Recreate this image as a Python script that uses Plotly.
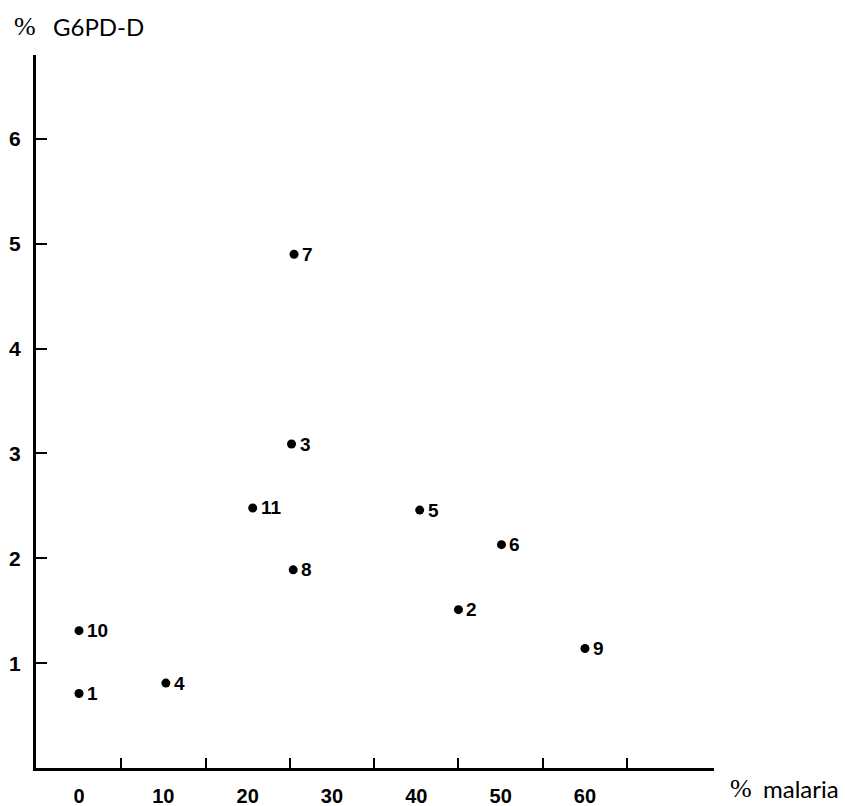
import plotly.graph_objects as go

# Data
ids = ["1", "2", "3", "4", "5", "6", "7", "8", "9", "10", "11"]
malaria = [0, 45, 25.2, 10.3, 40.4, 50.1, 25.5, 25.4, 60.0, 0, 20.6]
g6pd = [0.71, 1.51, 3.09, 0.81, 2.46, 2.13, 4.90, 1.89, 1.14, 1.31, 2.48]

x_label_vals = [0, 10, 20, 30, 40, 50, 60]
x_label_text = ["0", "10", "20", "30", "40", "50", "60"]
x_tick_marks = [5, 15, 25, 35, 45, 55, 65]
y_tick_vals = [1, 2, 3, 4, 5, 6]
y_tick_text = ["1", "2", "3", "4", "5", "6"]

fig = go.Figure()
fig.add_trace(go.Scatter(
    x=malaria, y=g6pd, mode="markers",
    marker=dict(size=9, color="black"),
    cliponaxis=False, showlegend=False, hoverinfo="skip",
))

label_font = dict(family="Liberation Sans", size=19, color="black", weight="bold")
annotations = [
    dict(text=t, x=xv, y=yv, xref="x", yref="y", xanchor="left", yanchor="middle",
         xshift=6, showarrow=False, font=label_font)
    for t, xv, yv in zip(ids, malaria, g6pd)
]

annotations += [
    dict(text="%", xref="paper", yref="paper", x=(12 - 36) / 678, y=(768 - 26) / 713,
         xanchor="left", yanchor="middle", showarrow=False,
         font=dict(family="Liberation Serif", size=26, color="black")),
    dict(text="G6PD-D", xref="paper", yref="paper", x=(51 - 36) / 678, y=(768 - 26) / 713,
         xanchor="left", yanchor="middle", showarrow=False,
         font=dict(family="Lato", size=24, color="black")),
    dict(text="%", xref="paper", yref="paper", x=(728 - 36) / 678, y=(768 - 789) / 713,
         xanchor="left", yanchor="middle", showarrow=False,
         font=dict(family="Liberation Serif", size=26, color="black")),
    dict(text="malaria", xref="paper", yref="paper", x=(761 - 36) / 678, y=(768 - 789) / 713,
         xanchor="left", yanchor="middle", showarrow=False,
         font=dict(family="Lato", size=24, color="black")),
]

fig.update_layout(
    width=845, height=806,
    margin=dict(l=36, r=131, t=55, b=38, autoexpand=False),
    plot_bgcolor="white", paper_bgcolor="white",
    xaxis=dict(
        range=[-5.1, 75.3], showgrid=False, zeroline=False, automargin=False,
        showline=True, linecolor="black", linewidth=3,
        tickmode="array", tickvals=x_label_vals, ticktext=x_label_text,
        ticks="", ticklabelstandoff=8,
        tickfont=dict(family="Liberation Sans", size=20, color="black", weight="bold"),
        minor=dict(tickmode="array", tickvals=x_tick_marks, ticks="inside",
                   ticklen=10, tickwidth=2, tickcolor="black", showgrid=False),
    ),
    yaxis=dict(
        range=[0, 6.8], showgrid=False, zeroline=False, automargin=False,
        showline=True, linecolor="black", linewidth=3,
        tickmode="array", tickvals=y_tick_vals, ticktext=y_tick_text,
        ticks="inside", ticklen=11, tickwidth=2, tickcolor="black",
        ticklabelstandoff=8,
        tickfont=dict(family="Liberation Sans", size=21, color="black", weight="bold"),
    ),
    annotations=annotations,
)

fig.write_html(
    "out.html",
    config={"displayModeBar": False},
    post_script="document.body.style.margin='0';document.body.style.overflow='hidden';",
)
